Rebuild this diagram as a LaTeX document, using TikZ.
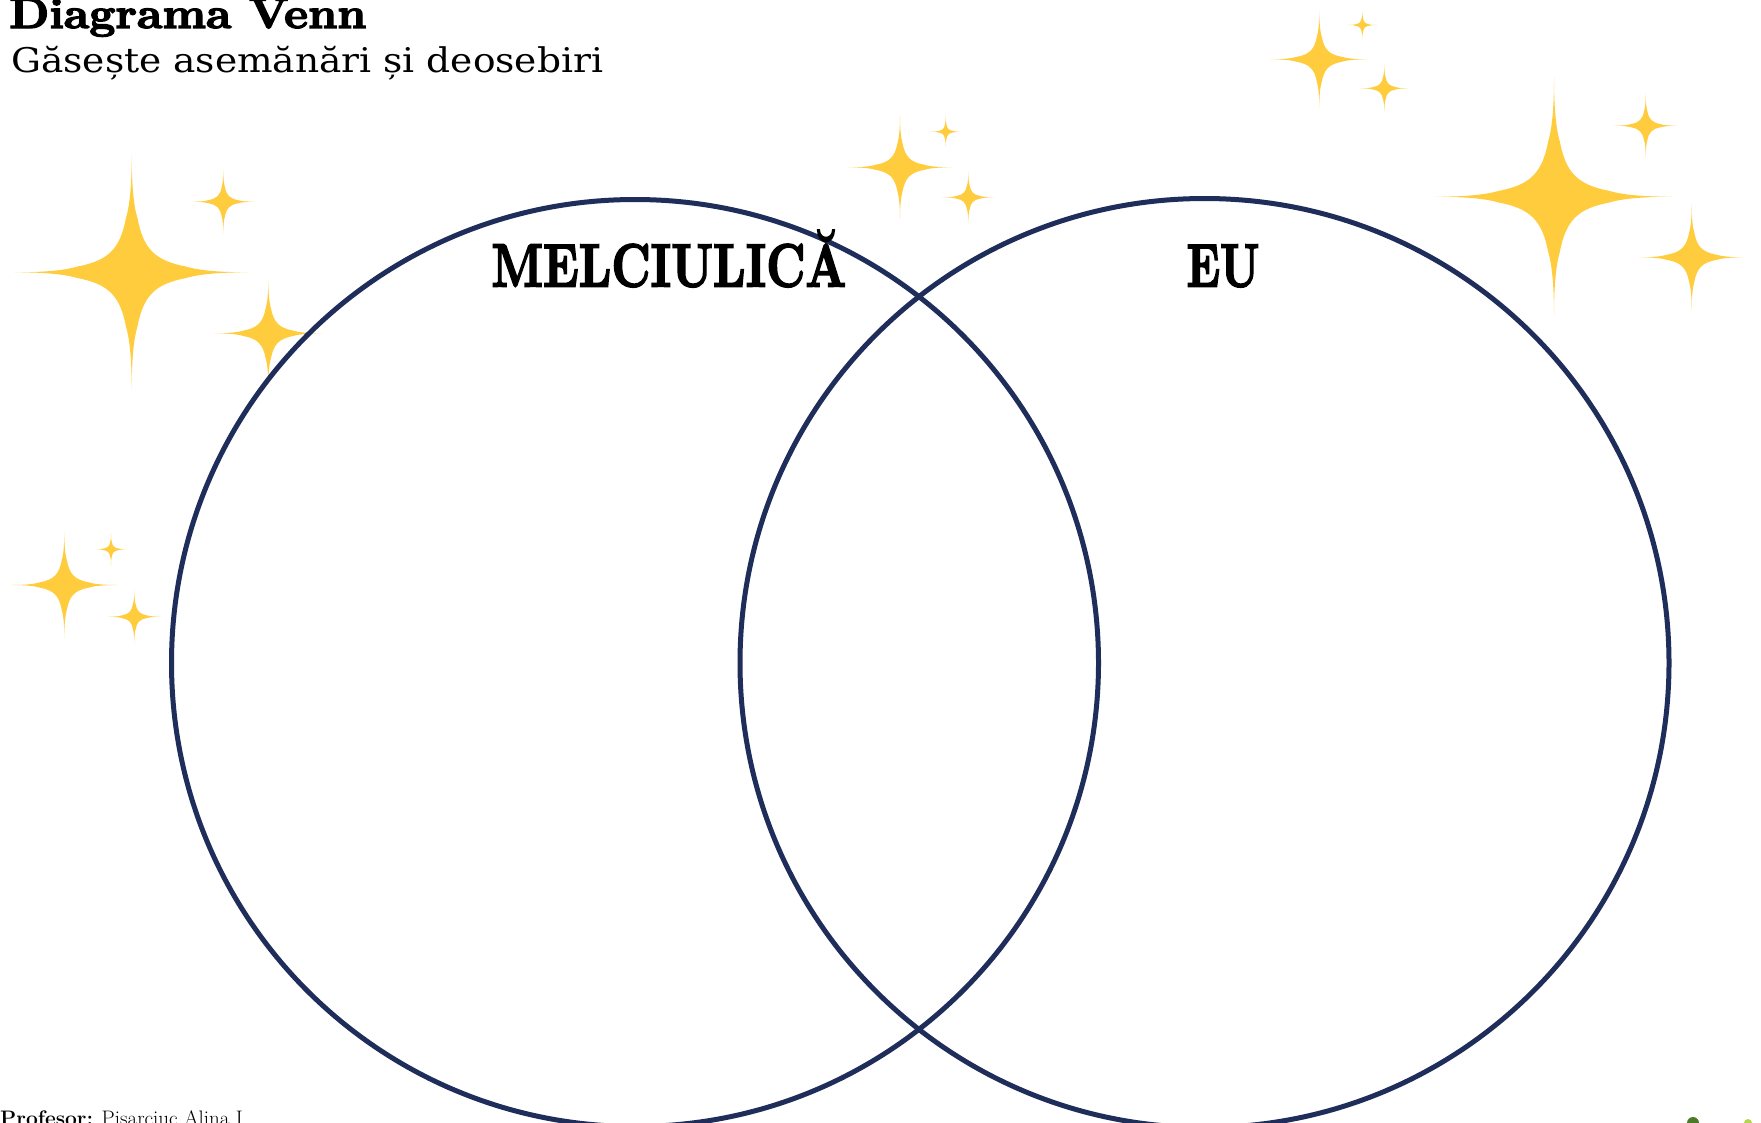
\documentclass[tikz,border=0pt]{standalone}
\usepackage{fontspec}
\usepackage{graphicx}
\newfontfamily\subfont{DejaVu Serif}
\newfontfamily\heavyfont{lmroman10-bold}[Extension=.otf, FakeBold=3]
\definecolor{starfill}{HTML}{FFCC3D}
\definecolor{navy}{HTML}{1F2D5A}
\definecolor{leafdark}{HTML}{4A7A2A}
\definecolor{leaflight}{HTML}{B5D64A}
\tikzset{
  sparkle/.pic={
    \fill[starfill] (0,1) .. controls (0,0.72) and (0.02,0.56) .. (0.05,0.46)
      .. controls (0.1,0.2) and (0.2,0.1) .. (0.46,0.05)
      .. controls (0.56,0.02) and (0.72,0) .. (1,0)
      .. controls (0.72,0) and (0.56,-0.02) .. (0.46,-0.05)
      .. controls (0.2,-0.1) and (0.1,-0.2) .. (0.05,-0.46)
      .. controls (0.02,-0.56) and (0,-0.72) .. (0,-1)
      .. controls (0,-0.72) and (-0.02,-0.56) .. (-0.05,-0.46)
      .. controls (-0.1,-0.2) and (-0.2,-0.1) .. (-0.46,-0.05)
      .. controls (-0.56,-0.02) and (-0.72,0) .. (-1,0)
      .. controls (-0.72,0) and (-0.56,0.02) .. (-0.46,0.05)
      .. controls (-0.2,0.1) and (-0.1,0.2) .. (-0.05,0.46)
      .. controls (-0.02,0.56) and (0,0.72) .. (0,1) -- cycle;
  },
  vennring/.style={draw=navy, line width=5pt},
  setlabel/.style={inner sep=0pt, font=\heavyfont\fontsize{61}{61}\selectfont},
}
\begin{document}
\begin{tikzpicture}[x=1pt, y=-1pt]
\useasboundingbox (0,0) rectangle (1761,1122);
\clip (0,0) rectangle (1761,1122);
\fill[white] (0,0) rectangle (1761,1122);
% sparkles
\foreach \cx/\cy/\s in {131.7/272.3/117, 223.3/201.7/32, 268.3/333.3/54,
  64.3/585/53, 111/549.3/16, 134.3/616.7/27,
  900/167.3/52, 945.7/131.7/15.5, 968.3/197.3/26,
  1319.3/59.3/49, 1362.3/25/14.5, 1384.3/88.3/24.5,
  1554/196.7/119, 1645.7/125.7/32, 1691.7/257.3/53}
  \pic[scale=\s] at (\cx,\cy) {sparkle};
% circles
\draw[vennring] (635,663) circle (463.5);
\draw[vennring] (1204.5,663) circle (464.5);
% texts
\node[anchor=base west, inner sep=0pt, font=\heavyfont\fontsize{43}{43}\selectfont] (title) at (9,28) {\resizebox{357pt}{\height}{Diagrama Venn}};
\node[anchor=base west, inner sep=0pt, font=\subfont\fontsize{34}{34}\selectfont] (subtitle) at (11,72.5) {\resizebox{592pt}{\height}{Găsește asemănări și deosebiri}};
\node[setlabel, anchor=base] (left) at (669,286.5) {\resizebox{355pt}{\height}{MELCIULICĂ}};
\node[setlabel, anchor=base] (right) at (1223,286.5) {\resizebox{73pt}{\height}{EU}};
\node[anchor=base west, inner sep=0pt, font=\fontsize{21}{21}\selectfont] (footer) at (0,1125) {\textbf{Profesor:} Pisarciuc Alina I};
% bottom-right logo fragment
\fill[leafdark] (1693,1123) circle (6);
\fill[leaflight] (1748,1123) circle (4);
\end{tikzpicture}
\end{document}
